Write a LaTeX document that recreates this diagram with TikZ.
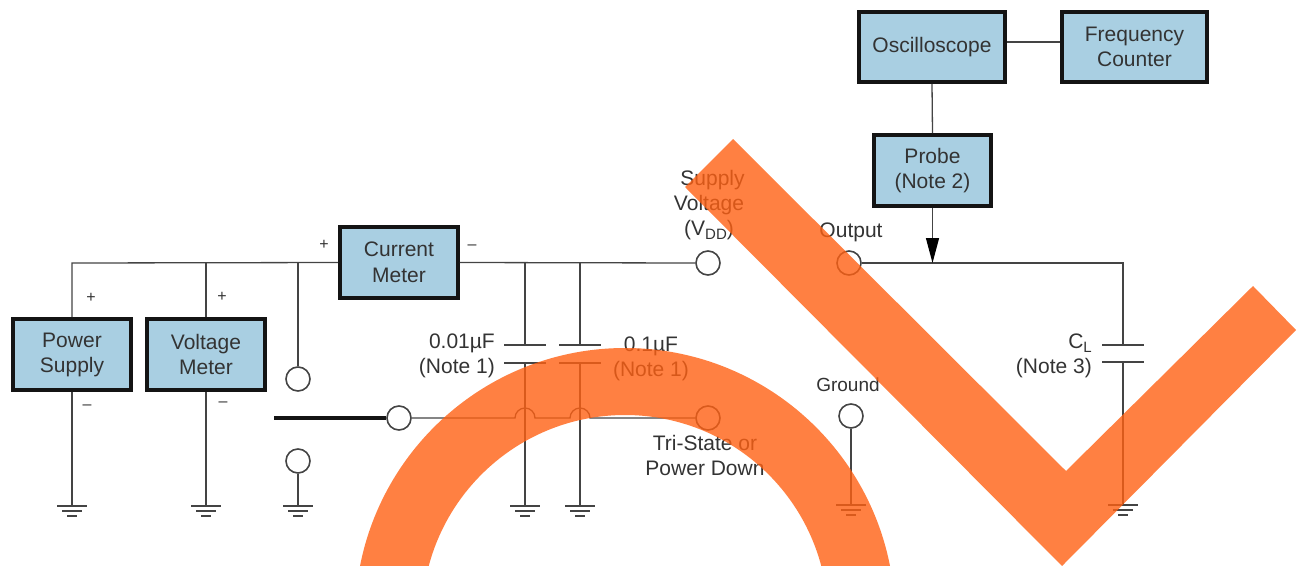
\documentclass[tikz,border=0pt]{standalone}
\usepackage{fontspec}
\setmainfont{Liberation Sans}
\definecolor{boxfill}{HTML}{A9CFE2}
\definecolor{boxedge}{HTML}{141414}
\definecolor{wire}{HTML}{444444}
\definecolor{ink}{HTML}{333333}
\definecolor{brand}{HTML}{FF6013}
\newcommand{\gnd}[1]{%
  \draw[wire] ($(#1)+(-15,0)$) -- ($(#1)+(15,0)$);
  \draw[wire] ($(#1)+(-10,5)$) -- ($(#1)+(10,5)$);
  \draw[wire] ($(#1)+(-5,10)$) -- ($(#1)+(5,10)$);}
\usetikzlibrary{calc,arrows.meta}
\tikzset{
  instr/.style={draw=boxedge,line width=3.8pt,fill=boxfill,align=center,text=ink,inner sep=0pt,
    font=\fontsize{21}{25}\selectfont},
  wire/.style={draw=wire,line width=1.3pt},
  term/.style={circle,draw=wire,line width=1.6pt,fill=white,minimum size=24pt,inner sep=0pt},
  lab/.style={text=ink,align=center,inner sep=0pt,font=\fontsize{21}{25}\selectfont},
  sign/.style={text=ink,inner sep=0pt,font=\fontsize{16}{16}\selectfont},
  plate/.style={draw=wire,line width=1.5pt},
}
\begin{document}
\begin{tikzpicture}[x=1pt,y=-1pt]
\useasboundingbox (0,0) rectangle (1300,565);
\clip (0,0) rectangle (1300,565);
% instruments
\node[instr,minimum width=146pt,minimum height=70pt] (osc) at (932,47) {\raisebox{2pt}{Oscilloscope}};
\node[instr,minimum width=145pt,minimum height=70pt] (freq) at (1134.5,47) {Frequency\\Counter};
\node[instr,minimum width=117pt,minimum height=71pt] (probe) at (932.5,170.5) {Probe\\(Note 2)};
\node[instr,minimum width=118pt,minimum height=71pt] (cur) at (399,262.5) {\raisebox{1.5pt}{Current}\\\raisebox{1pt}{Meter}};
\node[instr,minimum width=118pt,minimum height=71pt] (ps) at (72,354.5) {\raisebox{1pt}{Power}\\\raisebox{1pt}{Supply}};
\node[instr,minimum width=118pt,minimum height=71pt] (vm) at (206,354.5) {\raisebox{1pt}{Voltage}\\\raisebox{1pt}{Meter}};
% terminals
\node[term] (vdd) at (708,263) {};
\node[term] (out) at (849,263) {};
\node[term] (swa) at (298,379) {};
\node[term] (swc) at (399,418) {};
\node[term] (swb) at (298,461) {};
\node[term] (td) at (708,418) {};
\node[term] (gt) at (851,416) {};
% junctions and free ends
\coordinate (jps) at (72,263);
\coordinate (jvm) at (206,263);
\coordinate (jsw) at (298,263);
\coordinate (jc1) at (525,263);
\coordinate (jc2) at (580,263);
\coordinate (jpr) at (932.5,263);
\coordinate (jcl) at (1123,263);
\coordinate (swl) at (274,418);
\coordinate (g1) at (72,506);
\coordinate (g2) at (206,506);
\coordinate (g3) at (298,506);
\coordinate (g4) at (525,506);
\coordinate (g5) at (580,506);
\coordinate (g6) at (851,505);
\coordinate (g7) at (1123,505);
\coordinate (c1t) at (525,345); \coordinate (c1b) at (525,363);
\coordinate (c2t) at (580,345); \coordinate (c2b) at (580,363);
\coordinate (c3t) at (1123,345); \coordinate (c3b) at (1123,362);
\coordinate (ja) at (515,418);
\coordinate (jb) at (570,418);
% wires
\draw[wire] (ps.north) -- (jps) -- (cur.west);
\draw[wire] (vm.north) -- (jvm);
\draw[wire] (jsw) -- (swa.north);
\draw[wire] (cur.east) -- (vdd.west);
\draw[wire] (out.east) -- (jcl) -- (c3t);
\draw[wire] (c3b) -- (g7);
\draw[wire] (jc1) -- (c1t);
\draw[wire] (jc2) -- (c2t);
\draw[wire] (c1b) -- (g4);
\draw[wire] (c2b) -- (g5);
\draw[wire] (ps.south) -- (g1);
\draw[wire] (vm.south) -- (g2);
\draw[wire] (swb.south) -- (g3);
\draw[wire] (gt.south) -- (g6);
\draw[wire] ($(osc.east)+(0,-5)$) -- ($(freq.west)+(0,-5)$);
\draw[wire] (osc.south) -- (probe.north);
\draw[draw=boxedge,line width=3.6pt] (swl) -- (swc.west);
\draw[wire] (swc.east) -- (ja) arc (180:360:10) -- (jb) arc (180:360:10) -- (td.west);
\draw[wire,-{Triangle[length=25pt,width=13pt,fill=black,color=black]}] (probe.south) -- (jpr);
% capacitor plates
\draw[plate] ($(c1t)+(-21,0)$) -- ($(c1t)+(21,0)$);
\draw[plate] ($(c1b)+(-21,0)$) -- ($(c1b)+(21,0)$);
\draw[plate] ($(c2t)+(-21,0)$) -- ($(c2t)+(21,0)$);
\draw[plate] ($(c2b)+(-21,0)$) -- ($(c2b)+(21,0)$);
\draw[plate] ($(c3t)+(-21,0)$) -- ($(c3t)+(21,0)$);
\draw[plate] ($(c3b)+(-21,0)$) -- ($(c3b)+(21,0)$);
% grounds
\gnd{g1}\gnd{g2}\gnd{g3}\gnd{g4}\gnd{g5}\gnd{g6}\gnd{g7}
% labels
\node[lab] (lvdd) at (709,205) {\hspace*{7pt}Supply\\Voltage\\(V\raisebox{-4pt}{\fontsize{15}{15}\selectfont DD})};
\node[lab] (lout) at (851,232) {Output};
\node[lab,font=\fontsize{19}{25}\selectfont] (lgnd) at (848,385) {Ground};
\node[lab,align=right,anchor=east] (lc1) at (495,355.5) {0.01µF\\(Note 1)};
\node[lab] (lc2) at (651,359) {0.1µF\\(Note 1)};
\node[lab] (ltd) at (705,455) {Tri-State or\\Power Down};
\node[lab,align=right,anchor=east] (lcl) at (1092,356) {C\raisebox{-4pt}{\fontsize{15}{15}\selectfont L}\\(Note 3)};
\node[sign] (p1) at (91,298) {+};
\node[sign] (p2) at (222,297) {+};
\node[sign] (p3) at (324,245) {+};
\node[sign] (m1) at (87,407) {–};
\node[sign] (m2) at (223,404) {–};
\node[sign] (m3) at (472,247) {–};
% overlay marks
\fill[brand,opacity=.8,even odd rule] (625,618) circle[radius=270] (625,618) circle[radius=203];
\fill[brand,opacity=.8] (733,139) -- (1066,471) -- (1253,286) -- (1296,330) -- (1062,566) -- (685,187) -- cycle;
\end{tikzpicture}
\end{document}
